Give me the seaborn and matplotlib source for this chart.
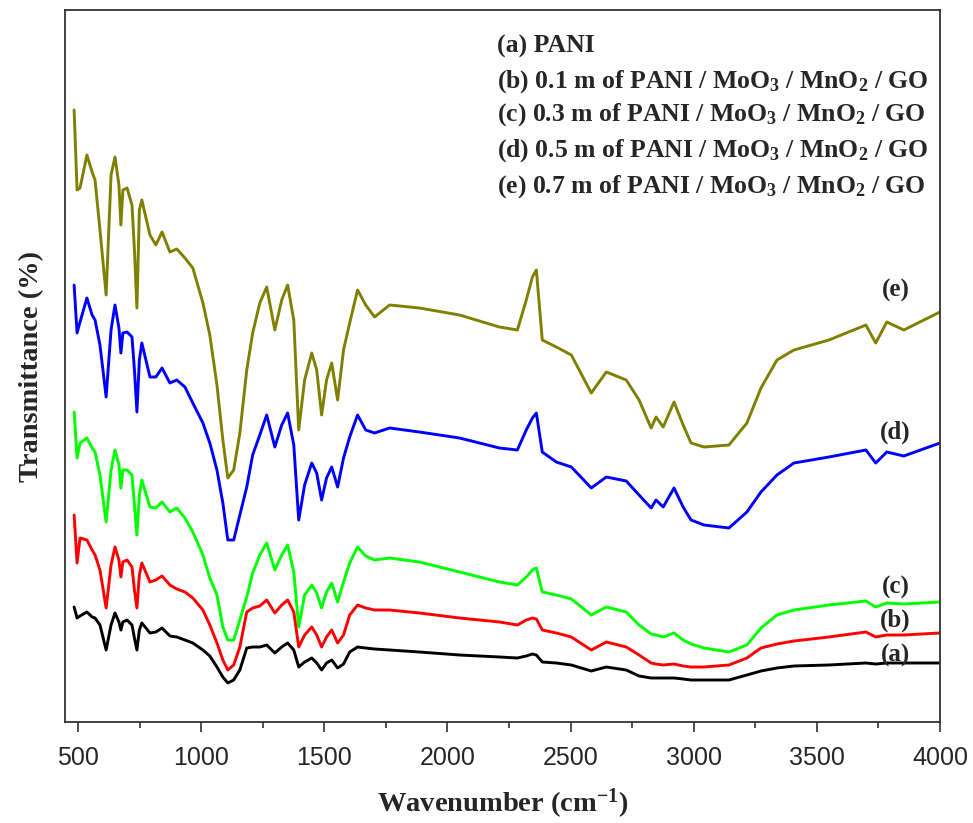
import matplotlib
matplotlib.use("Agg")
import matplotlib.pyplot as plt
from matplotlib.ticker import MultipleLocator
import seaborn as sns
import pandas as pd

# FTIR spectra of PANI and PANI/MoO3/MnO2/GO composites (stacked, arbitrary transmittance units)
wavenumber = [484, 496, 508, 536, 557, 569, 589, 614, 634, 650,
              666, 674, 682, 699, 719, 729, 739, 749, 759, 792,
              816, 841, 873, 901, 934, 966, 1007, 1035, 1064, 1088,
              1108, 1132, 1157, 1185, 1209, 1238, 1266, 1299, 1327, 1351,
              1376, 1396, 1420, 1449, 1469, 1489, 1509, 1530, 1554, 1578,
              1603, 1635, 1668, 1704, 1765, 1886, 2049, 2211, 2284, 2320,
              2345, 2361, 2385, 2442, 2503, 2584, 2645, 2726, 2778, 2827,
              2847, 2876, 2920, 2957, 2989, 3042, 3143, 3216, 3273, 3338,
              3407, 3549, 3699, 3739, 3784, 3853, 4000]

pani = [115, 104, 106, 110, 105, 104, 97, 72, 97, 109,
        100, 92, 100, 102, 97, 84, 72, 92, 99, 89,
        90, 94, 86, 85, 82, 79, 72, 66, 55, 45,
        39, 42, 52, 74, 75, 75, 77, 69, 75, 79,
        72, 55, 60, 64, 59, 52, 59, 62, 54, 58,
        70, 75, 74, 73, 72, 70, 67, 65, 64, 66,
        68, 67, 60, 59, 57, 51, 55, 52, 46, 44,
        44, 44, 44, 43, 42, 42, 42, 47, 51, 54,
        56, 57, 59, 58, 59, 59, 59]

comp_01 = [207, 159, 184, 182, 172, 167, 152, 114, 157, 175,
           162, 145, 160, 162, 155, 132, 114, 147, 159, 140,
           142, 146, 137, 133, 130, 124, 112, 97, 79, 62,
           52, 57, 75, 110, 114, 116, 122, 109, 117, 122,
           110, 75, 87, 95, 87, 75, 85, 92, 79, 87,
           107, 117, 114, 112, 112, 109, 104, 100, 97, 102,
           104, 103, 92, 89, 85, 72, 80, 75, 67, 59,
           58, 57, 58, 56, 55, 55, 57, 64, 74, 78,
           81, 85, 90, 85, 87, 87, 89]

comp_03 = [310, 264, 279, 284, 274, 270, 247, 200, 252, 272,
           257, 234, 252, 252, 247, 217, 187, 227, 242, 215,
           214, 220, 210, 214, 204, 190, 167, 144, 127, 95,
           82, 82, 102, 125, 149, 167, 179, 152, 167, 177,
           150, 95, 127, 137, 129, 114, 130, 139, 120, 140,
           159, 175, 166, 162, 164, 160, 150, 140, 137, 145,
           152, 154, 130, 127, 123, 107, 115, 110, 97, 88,
           87, 85, 89, 82, 78, 74, 70, 77, 94, 107,
           112, 117, 121, 115, 119, 118, 120]

comp_05 = [437, 389, 400, 424, 407, 402, 377, 325, 392, 417,
           394, 369, 389, 390, 385, 352, 310, 362, 379, 345,
           345, 354, 339, 342, 335, 319, 299, 279, 252, 219,
           182, 182, 207, 235, 267, 287, 307, 275, 297, 309,
           277, 202, 237, 259, 249, 222, 244, 255, 235, 264,
           285, 307, 292, 289, 294, 290, 284, 274, 272, 292,
           304, 309, 270, 260, 255, 234, 245, 241, 227, 214,
           222, 215, 234, 215, 202, 197, 194, 210, 230, 247,
           259, 265, 272, 259, 270, 266, 279]

comp_07 = [612, 532, 534, 567, 550, 542, 492, 427, 547, 565,
           537, 497, 532, 534, 517, 472, 414, 512, 522, 487,
           477, 490, 470, 473, 464, 454, 419, 387, 337, 282,
           244, 252, 289, 352, 389, 419, 435, 392, 422, 437,
           402, 292, 342, 369, 352, 307, 342, 359, 322, 372,
           399, 432, 417, 405, 417, 414, 407, 395, 392, 422,
           445, 452, 382, 375, 367, 329, 350, 342, 322, 294,
           305, 295, 320, 297, 279, 275, 277, 299, 334, 362,
           372, 382, 397, 379, 400, 392, 410]

sample_tags = ["(a)", "(b)", "(c)", "(d)", "(e)"]
sample_names = ["(a) PANI",
                "(b) 0.1 m of PANI / MoO$_3$ / MnO$_2$ / GO",
                "(c) 0.3 m of PANI / MoO$_3$ / MnO$_2$ / GO",
                "(d) 0.5 m of PANI / MoO$_3$ / MnO$_2$ / GO",
                "(e) 0.7 m of PANI / MoO$_3$ / MnO$_2$ / GO"]
series = [pani, comp_01, comp_03, comp_05, comp_07]
colors = ["#000000", "#ff0000", "#00ff00", "#0000ff", "#808000"]
tag_y = [67, 102, 135, 290, 432]

frames = [pd.DataFrame({"wavenumber": wavenumber, "T": vals, "sample": tag})
          for tag, vals in zip(sample_tags, series)]
df = pd.concat(frames, ignore_index=True)

sns.set_style("ticks")
plt.rcParams["font.family"] = ["Liberation Serif", "DejaVu Serif"]
plt.rcParams["mathtext.default"] = "regular"

fig = plt.figure(figsize=(9.73, 8.23), dpi=100)
ax = fig.add_axes([65 / 973, 1 - 722 / 823, 875 / 973, 712 / 823])

sns.lineplot(data=df, x="wavenumber", y="T", hue="sample", hue_order=sample_tags[::-1],
             palette=dict(zip(sample_tags, colors)), sort=False, estimator=None,
             linewidth=2.1, legend=False, ax=ax)

ax.set_xlim(447, 4000)
ax.set_ylim(0, 712)
ax.xaxis.set_major_locator(MultipleLocator(500))
ax.xaxis.set_minor_locator(MultipleLocator(250))
ax.set_yticks([])
ax.tick_params(axis="x", which="major", direction="out", length=7, width=1.2,
               color="#333333", pad=10, labelsize=18)
ax.tick_params(axis="x", which="minor", direction="out", length=4.5, width=1.2,
               color="#333333")
for lab in ax.get_xticklabels():
    lab.set_fontfamily("Liberation Sans")
for sp in ax.spines.values():
    sp.set_visible(True)
    sp.set_linewidth(1.3)
    sp.set_color("#333333")

ax.set_xlabel("Wavenumber (cm$^{-1}$)", fontsize=20.5, fontweight="bold", labelpad=12)
ax.set_ylabel("Transmittance (%)", fontsize=20.5, fontweight="bold", labelpad=15)

# sample key in the upper right
key_y = [0.9396, 0.8904, 0.8441, 0.7935, 0.7430]
for name, yk in zip(sample_names, key_y):
    ax.text(0.4937, yk, name, transform=ax.transAxes, fontsize=18.5,
            fontweight="bold", va="baseline", ha="left")

# curve tags at the right-hand end
for tag, ty in zip(sample_tags, tag_y):
    ax.text(3820, ty, tag, fontsize=18, fontweight="bold", ha="center", va="center")

fig.savefig("out.png", dpi=100)
